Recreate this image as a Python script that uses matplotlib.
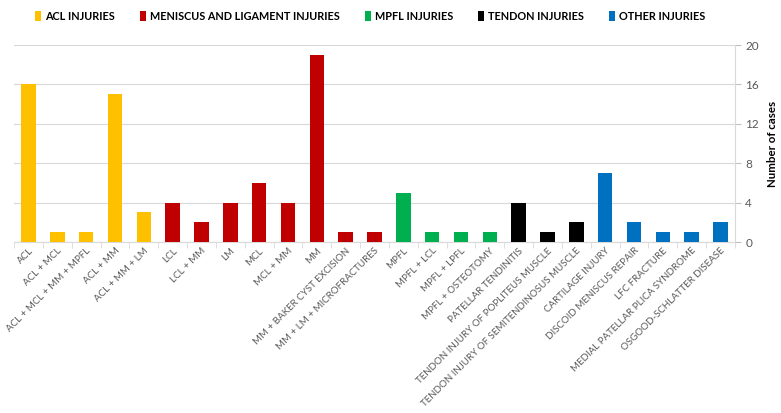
import matplotlib.pyplot as plt
from matplotlib.patches import Patch
import numpy as np

plt.rcParams['font.family'] = ['Lato', 'DejaVu Sans']

groups = ['ACL INJURIES', 'MENISCUS AND LIGAMENT INJURIES', 'MPFL INJURIES',
          'TENDON INJURIES', 'OTHER INJURIES']
group_colors = ['#FFC000', '#C00000', '#00B050', '#000000', '#0070C0']

acl_labels = ['ACL', 'ACL + MCL', 'ACL + MCL + MM + MPFL', 'ACL + MM', 'ACL + MM + LM']
acl_vals = [16, 1, 1, 15, 3]
men_labels = ['LCL', 'LCL + MM', 'LM', 'MCL', 'MCL + MM', 'MM',
              'MM + BAKER CYST EXCISION', 'MM + LM + MICROFRACTURES']
men_vals = [4, 2, 4, 6, 4, 19, 1, 1]
mpfl_labels = ['MPFL', 'MPFL + LCL', 'MPFL + LPFL', 'MPFL + OSTEOTOMY']
mpfl_vals = [5, 1, 1, 1]
tendon_labels = ['PATELLAR TENDINITIS', 'TENDON INJURY OF POPLITEUS MUSCLE',
                 'TENDON INJURY OF SEMITENDINOSUS MUSCLE']
tendon_vals = [4, 1, 2]
other_labels = ['CARTILAGE INJURY', 'DISCOID MENISCUS REPAIR', 'LFC FRACTURE',
                'MEDIAL PATELLAR PLICA SYNDROME', 'OSGOOD-SCHLATTER DISEASE']
other_vals = [7, 2, 1, 1, 2]

all_labels = [acl_labels, men_labels, mpfl_labels, tendon_labels, other_labels]
all_vals = [acl_vals, men_vals, mpfl_vals, tendon_vals, other_vals]

fig = plt.figure(figsize=(7.81, 4.13), dpi=100)
ax = fig.add_axes([0.018, 0.414, 0.923, 0.477])

labels = []
pos = 0
for lab, vals, col in zip(all_labels, all_vals, group_colors):
    x = np.arange(pos, pos + len(vals))
    ax.bar(x, vals, width=0.5, color=col, zorder=3)
    labels += lab
    pos += len(vals)

n = len(labels)
ax.set_xlim(-0.5, n - 0.5)
ax.set_ylim(0, 20)
ax.set_yticks(range(0, 21, 4))
ax.yaxis.tick_right()
ax.yaxis.set_label_position('right')
ax.set_ylabel('Number of cases', fontsize=8.3, fontweight='bold', labelpad=6)
ax.tick_params(axis='y', colors='#BFBFBF', labelcolor='#595959', labelsize=8.5, length=4)
ax.grid(axis='y', color='#D9D9D9', linewidth=0.8, zorder=0)

ax.set_xticks(range(n))
ax.set_xticklabels(labels, rotation=45, ha='right', rotation_mode='anchor',
                   fontsize=7.0, color='#595959')
ax.tick_params(axis='x', which='major', length=0, pad=3)
ax.set_xticks(np.arange(-0.5, n, 1), minor=True)
ax.tick_params(axis='x', which='minor', length=4, color='#D9D9D9')

for s in ['top', 'left']:
    ax.spines[s].set_visible(False)
ax.spines['bottom'].set_color('#D9D9D9')
ax.spines['right'].set_color('#D9D9D9')

handles = [Patch(facecolor=c, label=g) for g, c in zip(groups, group_colors)]
leg = fig.legend(handles=handles, loc='upper left', bbox_to_anchor=(0.032, 0.997),
                 ncol=5, frameon=False, handlelength=0.55, handleheight=1.0,
                 handletextpad=0.4, columnspacing=2.3,
                 prop={'size': 7.8, 'weight': 'bold'})

fig.savefig('out.png', dpi=100)
